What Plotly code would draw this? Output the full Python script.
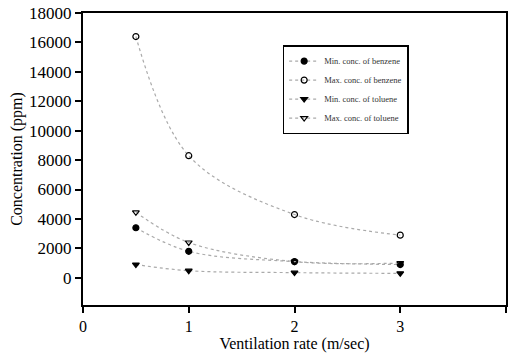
import plotly.graph_objects as go

ventilation = [0.5, 1, 2, 3]
min_benzene = [3400, 1800, 1100, 900]
max_benzene = [16400, 8300, 4300, 2900]
min_toluene = [900, 480, 350, 300]
max_toluene = [4450, 2400, 1100, 1000]

series = [
    ("Min. conc. of benzene", min_benzene, "circle", "dot"),
    ("Max. conc. of benzene", max_benzene, "circle-open", "dot"),
    ("Min. conc. of toluene", min_toluene, "triangle-down", "dot"),
    ("Max. conc. of toluene", max_toluene, "triangle-down-open", "dot"),
]

fig = go.Figure()
for name, vals, sym, dash in series:
    fig.add_trace(go.Scatter(
        x=ventilation, y=vals, name=name, mode="lines+markers",
        line=dict(color="#aaaaaa", width=1.2, dash=dash, shape="spline", smoothing=1.0),
        marker=dict(symbol=sym, size=6, color="black", line=dict(color="black", width=1.2)),
    ))

font_family = "Liberation Serif"
fig.update_layout(
    width=508, height=353,
    margin=dict(l=83, r=2, t=13, b=48),
    paper_bgcolor="white", plot_bgcolor="white",
    font=dict(family=font_family, size=15, color="black"),
    showlegend=True,
    legend=dict(
        x=0.472, y=0.89, xanchor="left", yanchor="top",
        bordercolor="black", borderwidth=1.5, bgcolor="white",
        font=dict(size=8.5, family=font_family, color="#333333"),
        tracegroupgap=0, itemwidth=30,
    ),
)
fig.update_xaxes(
    range=[0, 4], tickvals=[0, 1, 2, 3, 4], ticks="outside", ticklen=6,
    tickcolor="black", tickwidth=1.5, automargin=False,
    showgrid=False, zeroline=False, showline=True, linecolor="black", linewidth=2,
    mirror=True, tickfont=dict(size=16),
    title=dict(text="Ventilation rate (m/sec)", font=dict(size=16), standoff=5),
)
fig.update_yaxes(
    range=[-1850, 18000], tick0=0, dtick=2000, tickformat="d", ticks="outside", ticklen=6,
    tickcolor="black", tickwidth=1.5, automargin=False,
    showgrid=False, zeroline=False, showline=True, linecolor="black", linewidth=2,
    mirror=True, tickfont=dict(size=17),
    title=dict(text="Concentration (ppm)", font=dict(size=16), standoff=2),
)

fig.write_html("out.html")
